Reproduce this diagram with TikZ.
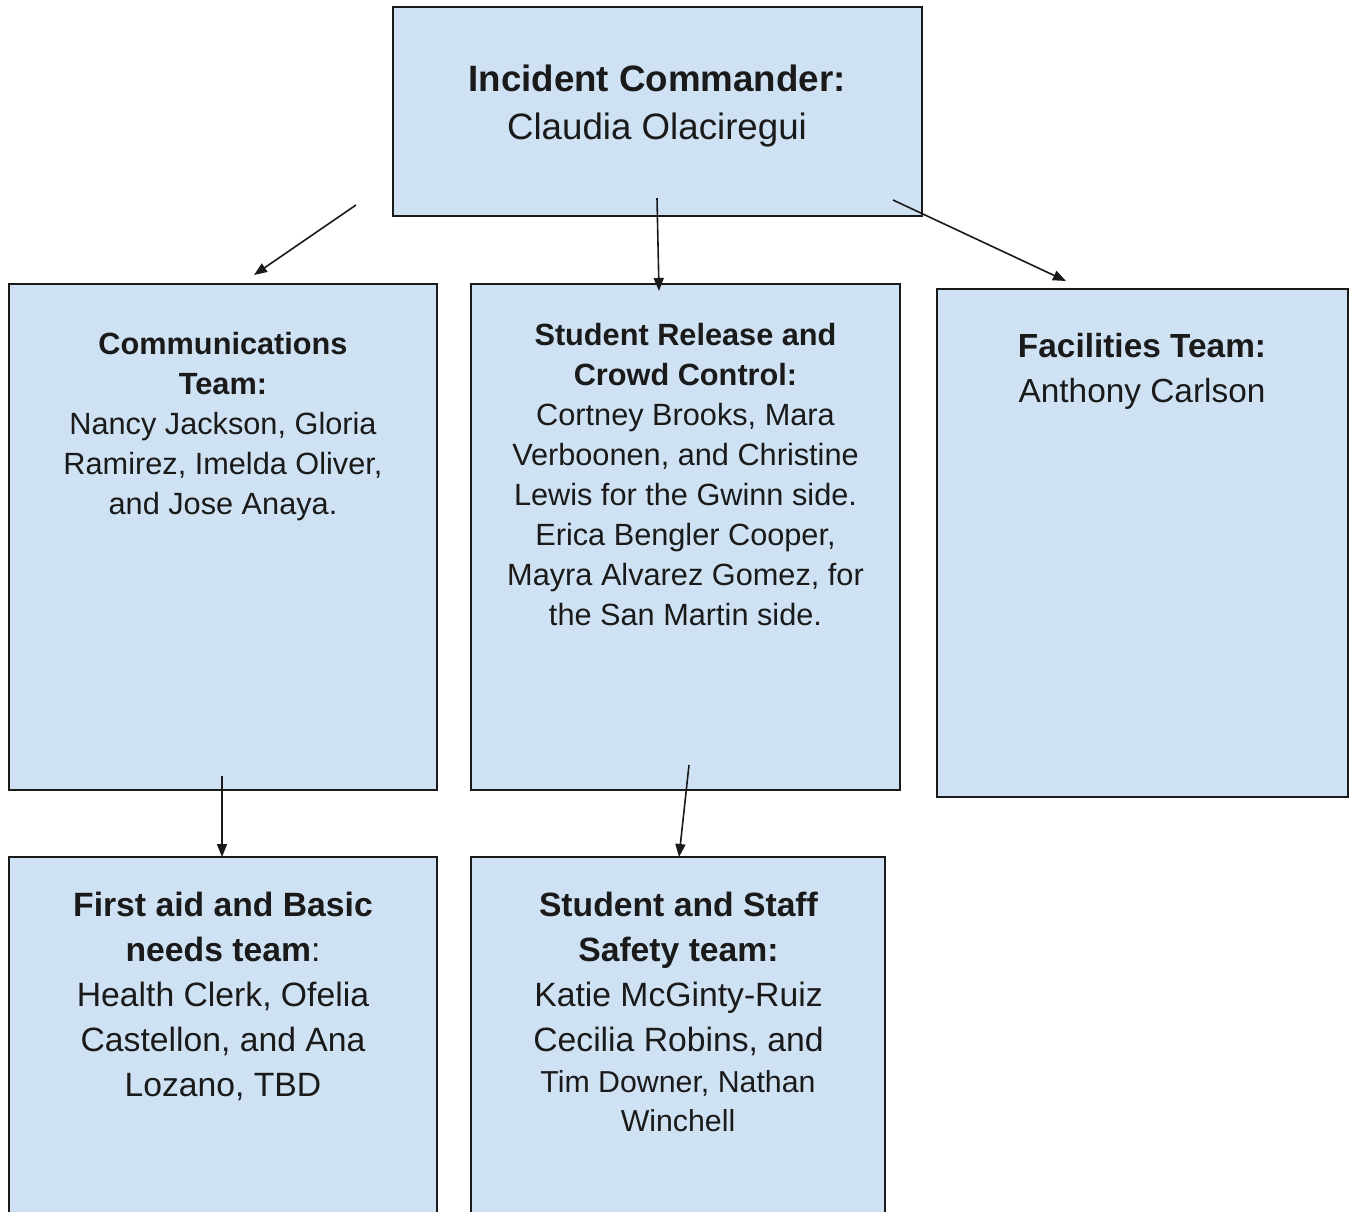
\documentclass[tikz,border=0pt]{standalone}
\usepackage{fontspec}
\setmainfont{Liberation Sans}
\usetikzlibrary{arrows.meta}
\definecolor{boxblue}{HTML}{CFE2F3}
\definecolor{inkblack}{HTML}{1A1A1A}
\begin{document}
\begin{tikzpicture}[x=1pt,y=-1pt,
  box/.style={draw=inkblack, line width=1.8pt, fill=boxblue, anchor=north west, outer sep=0pt, inner sep=0pt},
  conn/.style={draw=inkblack, line width=1.6pt, -{Triangle[length=13pt,width=10pt]}},
  txt/.style={anchor=north, align=center, inner sep=0pt, text=inkblack}]
\clip (0,0) rectangle (1349,1211);
\fill[white] (0,0) rectangle (1349,1211);
% boxes
\node[box, minimum width=529pt, minimum height=209pt] (ic) at (393,7) {};
\node[box, minimum width=428pt, minimum height=506pt] (comm) at (9,284) {};
\node[box, minimum width=429pt, minimum height=506pt] (srcc) at (471,284) {};
\node[box, minimum width=411pt, minimum height=508pt] (fac) at (937,289) {};
\node[box, minimum width=428pt, minimum height=420pt] (aid) at (9,857) {};
\node[box, minimum width=414pt, minimum height=420pt] (safe) at (471,857) {};
% texts
\node[txt, font=\fontsize{36.7}{48}\selectfont] (ictxt) at (657,64.4)
  {\textbf{Incident Commander:}\\Claudia Olaciregui};
\node[txt, font=\fontsize{30.7}{40}\selectfont] (commtxt) at (223,331.6)
  {\textbf{Communications}\\\textbf{Team:}\\Nancy Jackson, Gloria\\Ramirez, Imelda Oliver,\\and Jose Anaya.};
\node[txt, font=\fontsize{30.7}{40}\selectfont] (srcctxt) at (685.5,322.6)
  {\textbf{Student Release and}\\\textbf{Crowd Control:}\\Cortney Brooks, Mara\\Verboonen, and Christine\\Lewis for the Gwinn side.\\Erica Bengler Cooper,\\Mayra Alvarez Gomez, for\\the San Martin side.};
\node[txt, font=\fontsize{33.4}{45}\selectfont] (factxt) at (1142,332.6)
  {\textbf{Facilities Team:}\\Anthony Carlson};
\node[txt, font=\fontsize{33.7}{45}\selectfont] (aidtxt) at (223,891.5)
  {\textbf{First aid and Basic}\\\textbf{needs team}:\\Health Clerk, Ofelia\\Castellon, and Ana\\Lozano, TBD};
\node[txt, font=\fontsize{33.7}{45}\selectfont] (safetxt) at (678.5,891.5)
  {\textbf{Student and Staff}\\\textbf{Safety team:}\\Katie McGinty-Ruiz\\Cecilia Robins, and};
\node[txt, font=\fontsize{30.3}{39}\selectfont] (safetxtb) at (678,1070.8)
  {Tim Downer, Nathan\\Winchell};
% connector ends
\coordinate (a1s) at (356,205); \coordinate (a1e) at (254,275);
\coordinate (a2s) at (657,198); \coordinate (a2e) at (659,291);
\coordinate (a3s) at (893,200); \coordinate (a3e) at (1066,281);
\coordinate (a4s) at (222,776); \coordinate (a4e) at (222,857);
\coordinate (a5s) at (689,765); \coordinate (a5e) at (679,857);
\draw[conn] (a1s) -- (a1e);
\draw[conn] (a2s) -- (a2e);
\draw[conn] (a3s) -- (a3e);
\draw[conn] (a4s) -- (a4e);
\draw[conn] (a5s) -- (a5e);
\end{tikzpicture}
\end{document}
